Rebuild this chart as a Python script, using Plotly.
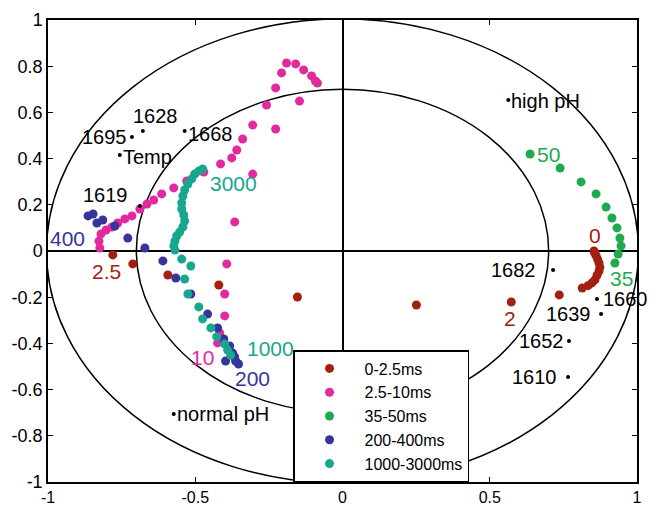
import plotly.graph_objects as go

# ---- data -------------------------------------------------------------
# 0-2.5 ms
red_x = [-0.78, -0.712, -0.593, -0.42, -0.153, 0.251, 0.573, 0.736, 0.814,
         0.834, 0.847, 0.857, 0.864, 0.871, 0.874, 0.871, 0.866, 0.861, 0.857, 0.854]
red_y = [-0.017, -0.056, -0.104, -0.147, -0.199, -0.234, -0.221, -0.19, -0.16,
         -0.15, -0.138, -0.125, -0.106, -0.087, -0.07, -0.052, -0.035, -0.02, -0.01, 0.0]

# 2.5-10 ms
mag_x = [-0.207, -0.19, -0.159, -0.132, -0.105, -0.092, -0.085, -0.146, -0.227, -0.258,
         -0.305, -0.227, -0.339, -0.359, -0.376, -0.414, -0.305, -0.471, -0.529, -0.573,
         -0.614, -0.641, -0.664, -0.688, -0.715, -0.739, -0.763, -0.783, -0.803, -0.82,
         -0.827, -0.824, -0.366, -0.393, -0.4, -0.4, -0.417, -0.424]
mag_y = [0.771, 0.814, 0.81, 0.784, 0.758, 0.736, 0.727, 0.649, 0.706, 0.632,
         0.545, 0.528, 0.485, 0.437, 0.403, 0.377, 0.333, 0.342, 0.303, 0.273,
         0.247, 0.221, 0.203, 0.182, 0.152, 0.139, 0.121, 0.104, 0.091, 0.074,
         0.043, 0.013, 0.126, -0.056, -0.186, -0.281, -0.355, -0.398]

# 35-50 ms
grn_x = [0.637, 0.739, 0.81, 0.861, 0.895, 0.915, 0.932, 0.942, 0.946, 0.936, 0.925]
grn_y = [0.42, 0.359, 0.299, 0.247, 0.19, 0.143, 0.1, 0.056, 0.022, -0.013, -0.052]

# 200-400 ms
blu_x = [-0.864, -0.847, -0.834, -0.814, -0.773, -0.729, -0.671, -0.61, -0.566, -0.515,
         -0.458, -0.424, -0.403, -0.383, -0.373, -0.397, -0.363, -0.353, -0.366]
blu_y = [0.152, 0.16, 0.121, 0.134, 0.108, 0.056, 0.013, -0.043, -0.117, -0.186,
         -0.273, -0.333, -0.381, -0.411, -0.442, -0.476, -0.476, -0.489, -0.459]

# 1000-3000 ms
tea_x = [-0.475, -0.488, -0.502, -0.512, -0.525, -0.536, -0.542, -0.546, -0.546, -0.539,
         -0.536, -0.542, -0.553, -0.563, -0.569, -0.573, -0.569, -0.546, -0.515, -0.536,
         -0.525, -0.488, -0.475, -0.447, -0.427, -0.4, -0.39, -0.38]
tea_y = [0.355, 0.346, 0.333, 0.312, 0.29, 0.264, 0.238, 0.208, 0.182, 0.156,
         0.13, 0.104, 0.082, 0.065, 0.043, 0.022, 0.004, -0.035, -0.065, -0.121,
         -0.186, -0.242, -0.294, -0.333, -0.372, -0.403, -0.429, -0.45]

# reference spectra / conditions
ref_names = ["1628", "1695", "1668", "Temp", "1619", "high pH", "1682",
             "1660", "1639", "1652", "1610", "normal pH"]
ref_x = [-0.678, -0.715, -0.536, -0.756, -0.688, 0.563, 0.715,
         0.864, 0.878, 0.769, 0.766, -0.573]
ref_y = [0.52, 0.494, 0.52, 0.416, 0.195, 0.654, -0.082,
         -0.208, -0.273, -0.39, -0.545, -0.706]

# time-point labels
time_text = ["0", "2", "2.5", "35", "50", "10", "400", "200", "1000", "3000"]
time_x = [0.856, 0.57, -0.8, 0.946, 0.70, -0.475, -0.935, -0.305, -0.245, -0.37]
time_y = [0.065, -0.294, -0.09, -0.117, 0.416, -0.459, 0.056, -0.554, -0.424, 0.294]

series_names = ["0-2.5ms", "2.5-10ms", "35-50ms", "200-400ms", "1000-3000ms"]
circle_radii = [1.005, 0.7]

# ---- styling ----------------------------------------------------------
FONT = "Liberation Sans, Arial, sans-serif"
colors = ["#a3200f", "#e22a9e", "#1faa4e", "#37349a", "#17a68e"]
time_colors = [colors[0], colors[0], colors[0], colors[2], colors[2],
               colors[1], colors[3], colors[3], colors[4], colors[4]]

# label placement: (xanchor, yanchor, xshift, yshift)
ref_label_pos = {
    "1628": ("left", "bottom", -12, 2),
    "1695": ("right", "middle", -3, 0),
    "1668": ("left", "middle", 1, -3),
    "Temp": ("left", "middle", 1, -2),
    "1619": ("right", "bottom", -10, -2),
    "high pH": ("left", "middle", 1, -1),
    "1682": ("right", "middle", -15, 0),
    "1660": ("left", "middle", 4, 0),
    "1639": ("right", "middle", -8, 0),
    "1652": ("right", "middle", -3, 0),
    "1610": ("right", "middle", -9, 0),
    "normal pH": ("left", "middle", 1, 0),
}

fig = go.Figure()

for xs, ys, name, col in zip([red_x, mag_x, grn_x, blu_x, tea_x],
                             [red_y, mag_y, grn_y, blu_y, tea_y],
                             series_names, colors):
    fig.add_trace(go.Scatter(
        x=xs, y=ys, mode="markers", name=name,
        marker=dict(color=col, size=9, line=dict(width=0)),
    ))

fig.add_trace(go.Scatter(
    x=ref_x, y=ref_y, mode="markers", showlegend=False,
    marker=dict(color="black", size=4),
))

for name, x, y in zip(ref_names, ref_x, ref_y):
    xa, ya, dx, dy = ref_label_pos[name]
    fig.add_annotation(x=x, y=y, text=name, showarrow=False,
                       xanchor=xa, yanchor=ya, xshift=dx, yshift=dy,
                       font=dict(family=FONT, size=20, color="black"))

for t, x, y, c in zip(time_text, time_x, time_y, time_colors):
    fig.add_annotation(x=x, y=y, text=t, showarrow=False,
                       xanchor="center", yanchor="middle",
                       font=dict(family=FONT, size=21, color=c))

for r in circle_radii:
    fig.add_shape(type="circle", xref="x", yref="y",
                  x0=-r, y0=-r, x1=r, y1=r, layer="below",
                  line=dict(color="black", width=1.5))

axis_common = dict(
    range=[-1, 1], showgrid=False, automargin=False,
    zeroline=True, zerolinecolor="black", zerolinewidth=1.5,
    showline=True, linecolor="black", linewidth=1.5, mirror="ticks",
    ticks="inside", ticklen=5, tickcolor="black", tickwidth=1,
)

fig.update_xaxes(**axis_common, tickvals=[-1, -0.5, 0, 0.5, 1],
                 ticktext=["-1", "-0.5", "0", "0.5", "1"],
                 tickfont=dict(family=FONT, size=16, color="black"))
fig.update_yaxes(**axis_common, tickvals=[-1, -0.8, -0.6, -0.4, -0.2, 0, 0.2, 0.4, 0.6, 0.8, 1],
                 ticktext=["-1", "-0.8", "-0.6", "-0.4", "-0.2", "0", "0.2", "0.4", "0.6", "0.8", "1"],
                 tickfont=dict(family=FONT, size=18, color="black"))

fig.update_layout(
    width=652, height=506,
    margin=dict(l=48, r=15, t=20, b=24),
    paper_bgcolor="white", plot_bgcolor="white",
    font=dict(family=FONT, color="black"),
    legend=dict(
        x=0.416, y=0, xanchor="left", yanchor="bottom",
        bgcolor="white", bordercolor="black", borderwidth=1.5,
        font=dict(family=FONT, size=16, color="black"),
        itemwidth=60,
    ),
)

fig.write_html("out.html")
